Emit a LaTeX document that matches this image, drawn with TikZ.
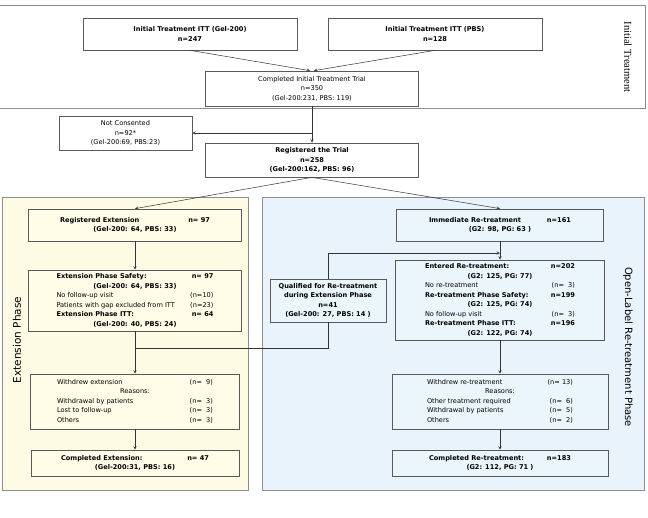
\documentclass[tikz,border=0pt]{standalone}
\usepackage{fontspec}
\setmainfont{DejaVu Sans}
\newfontfamily\ttlserif{Liberation Serif}
\definecolor{extfill}{HTML}{FDFBE3}
\definecolor{extbox}{HTML}{FFFDE8}
\definecolor{olfill}{HTML}{E8F3FB}
\definecolor{olbox}{HTML}{EBF5FC}
\newcommand{\fs}{\fontsize{6.6}{9.5}\selectfont}
% two-column rows: label on the left, count on the right
\newcommand{\rowbox}[2]{\begin{tabular*}{#1pt}{@{\extracolsep{\fill}}l r@{}}#2\end{tabular*}}

\begin{document}
\begin{tikzpicture}[x=1pt, y=-1pt, >=stealth, font=\fs,
		box/.style={draw=black!65, line width=0.7pt, inner sep=0pt, align=center},
		frame/.style={draw=black!45, line width=0.9pt},
		flow/.style={draw=black!80, line width=0.5pt}]
	\fill[white] (0,0) rectangle (648,517);
	\useasboundingbox (0,0) rectangle (648,517);
	% phase frames
	\draw[frame] (-5,5) rectangle (645,108);
	\draw[frame, fill=extfill] (2,197) rectangle (248,490);
	\draw[frame, fill=olfill] (262,197) rectangle (644,490);
	\node[rotate=-90, font=\ttlserif\fontsize{10.5}{12}\selectfont] (tIT) at (628,57) {Initial Treatment};
	\node[rotate=90, font=\fontsize{10.5}{12}\selectfont] (tEP) at (17,340) {Extension Phase};
	\node[rotate=-90, font=\fontsize{10}{12}\selectfont] (tOL) at (628,347) {Open-Label Re-treatment Phase};
	% initial treatment
	\node[box, fill=white, font=\fs\bfseries, minimum width=214, minimum height=32] (itt1) at (190,34) {Initial Treatment ITT (Gel-200)\\n=247};
	\node[box, fill=white, font=\fs\bfseries, minimum width=214, minimum height=32] (itt2) at (435,34) {Initial Treatment ITT (PBS)\\n=128};
	\node[box, fill=white, minimum width=213, minimum height=35] (compl) at (312,88.5) {Completed Initial Treatment Trial\\n=350\\(Gel-200:231, PBS: 119)};
	\node[box, fill=white, minimum width=133, minimum height=34] (notc) at (125.5,133) {Not Consented\\n=92*\\(Gel-200:69, PBS:23)};
	\node[box, fill=white, font=\fs\bfseries, minimum width=213, minimum height=34] (reg) at (312,160) {Registered the Trial\\n=258\\(Gel-200:162, PBS: 96)};
	% extension phase
	\node[box, fill=extbox, minimum width=213, minimum height=32] (regext) at (135,225) {\rowbox{150}{\textbf{Registered Extension} & \textbf{n= 97}\\
		\multicolumn{2}{c}{\textbf{(Gel-200: 64, PBS: 33)}}}};
	\node[box, fill=extbox, minimum width=213, minimum height=61] (safety) at (135,300.5) {\rowbox{157}{\textbf{Extension Phase Safety:} & \textbf{n= 97}\\
		\multicolumn{2}{c}{\textbf{(Gel-200: 64, PBS: 33)}}\\
		No follow-up visit & (n=10)\\
		Patients with gap excluded from ITT & (n=23)\\
		\textbf{Extension Phase ITT:} & \textbf{n= 64}\\
		\multicolumn{2}{c}{\textbf{(Gel-200: 40, PBS: 24)}}}};
	\node[box, fill=extbox, minimum width=209, minimum height=55] (wdext) at (135,401.5) {\rowbox{156}{Withdrew extension & (n=\ \ 9)\\
		\multicolumn{2}{c}{Reasons:}\\
		Withdrawal by patients & (n=\ \ 3)\\
		Lost to follow-up & (n=\ \ 3)\\
		Others & (n=\ \ 3)}};
	\node[box, fill=extbox, minimum width=208, minimum height=26] (complext) at (135,463) {\rowbox{148}{\textbf{Completed Extension:} & \textbf{n= 47}\\
		\multicolumn{2}{c}{\textbf{(Gel-200:31, PBS: 16)}}}};
	% re-treatment phase
	\node[box, fill=olbox, font=\fs\bfseries, minimum width=116, minimum height=43] (qual) at (328,300.5) {Qualified for Re-treatment\\during Extension Phase\\n=41\\(Gel-200: 27, PBS: 14 )};
	\node[box, fill=olbox, minimum width=207, minimum height=32] (immed) at (500,225) {\rowbox{142}{\textbf{Immediate Re-treatment} & \textbf{n=161}\\
		\multicolumn{2}{c}{\textbf{(G2: 98, PG: 63 )}}}};
	\node[box, fill=olbox, minimum width=209, minimum height=80] (entered) at (500,300) {\rowbox{150}{\textbf{Entered Re-treatment:} & \textbf{n=202}\\
		\multicolumn{2}{c}{\textbf{(G2: 125, PG: 77)}}\\
		No re-treatment & (n=\ \ 3)\\
		\textbf{Re-treatment Phase Safety:} & \textbf{n=199}\\
		\multicolumn{2}{c}{\textbf{(G2: 125, PG: 74)}}\\
		No follow-up visit & (n=\ \ 3)\\
		\textbf{Re-treatment Phase ITT:} & \textbf{n=196}\\
		\multicolumn{2}{c}{\textbf{(G2: 122, PG: 74)}}}};
	\node[box, fill=olbox, minimum width=216, minimum height=55] (wdre) at (500,401.5) {\rowbox{146}{Withdrew re-treatment & (n= 13)\\
		\multicolumn{2}{c}{Reasons:}\\
		Other treatment required & (n=\ \ 6)\\
		Withdrawal by patients & (n=\ \ 5)\\
		Others & (n=\ \ 2)}};
	\node[box, fill=olbox, minimum width=216, minimum height=26] (complre) at (500,463) {\rowbox{142}{\textbf{Completed Re-treatment:} & \textbf{n=183}\\
		\multicolumn{2}{c}{\textbf{(G2: 112, PG: 71 )}}}};
	% connectors
	\draw[flow,->] (itt1.south) -- ([xshift=-2pt]compl.north);
	\draw[flow,->] (itt2.south) -- ([xshift=2pt]compl.north);
	\draw[flow,->] (compl.south) -- (reg.north);
	\coordinate (brk) at (compl.south |- notc.east);
	\draw[flow,->] (brk) -- (notc.east);
	\draw[flow,->] (reg.south) -- (regext.north);
	\draw[flow,->] (reg.south) -- (immed.north);
	\draw[flow,->] (regext.south) -- (safety.north);
	\draw[flow,->] (safety.south) -- (wdext.north);
	\draw[flow,->] (wdext.south) -- (complext.north);
	\coordinate (jx) at (135,348);
	\coordinate (jq) at (qual.south |- jx);
	\draw[flow] (jx) -- (jq) -- (qual.south);
	\coordinate (jt) at (qual.north |- 0,253);
	\draw[flow,->] (qual.north) -- (jt) -- (entered.north |- jt);
	\draw[flow,->] (immed.south) -- (entered.north);
	\draw[flow,->] (entered.south) -- (wdre.north);
	\draw[flow,->] (wdre.south) -- (complre.north);
\end{tikzpicture}
\end{document}
